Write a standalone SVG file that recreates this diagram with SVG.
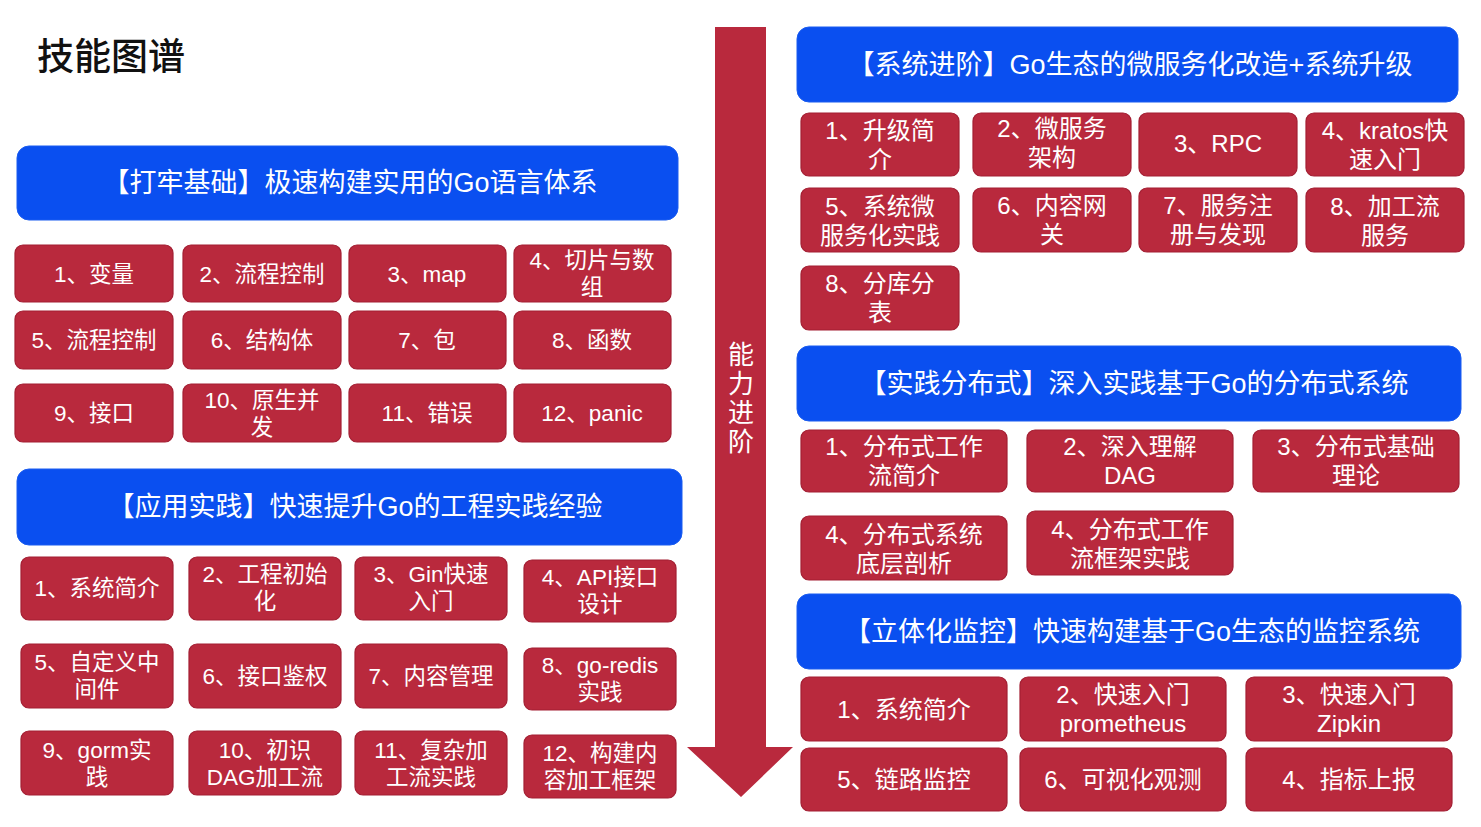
<svg xmlns="http://www.w3.org/2000/svg" width="1481" height="827" viewBox="0 0 1481 827">
<defs>
<style>
.hdr{fill:#0a4ff0;stroke:#1a5cf0;stroke-width:1}
.box{fill:#b9293d;stroke:#a31f33;stroke-width:1.2}
.ht{font-family:"Liberation Sans","Noto Sans CJK SC",sans-serif;font-size:27px;fill:#ffffff;text-anchor:middle}
.bt{font-family:"Liberation Sans","Noto Sans CJK SC",sans-serif;font-size:22.5px;fill:#ffffff;text-anchor:middle}
.bt2{font-family:"Liberation Sans","Noto Sans CJK SC",sans-serif;font-size:24px;fill:#ffffff;text-anchor:middle}
.title{font-family:"Noto Sans CJK SC",sans-serif;font-size:37px;font-weight:500;fill:#111111}
.arrt{font-family:"Noto Sans CJK SC",sans-serif;font-size:26px;fill:#ffffff;writing-mode:vertical-rl;letter-spacing:3px}
</style>
</defs>
<rect width="1481" height="827" fill="#ffffff"/>
<text id="title" class="title" x="37" y="70">技能图谱</text>

<g id="connectors">
<polygon id="progress-arrow" points="715,27 766,27 766,747 793,747 741,797 687,747 715,747" fill="#b9293d"/>
<text class="arrt" x="741" y="341">能力进阶</text>
</g>

<!-- Group 1 -->
<g id="h1"><rect class="hdr" x="17" y="146" width="661" height="74" rx="12"/><text class="ht" x="350" y="192">【打牢基础】极速构建实用的Go语言体系</text></g>
<g id="b1-1"><rect class="box" x="15" y="245" width="158" height="57" rx="8"/><text class="bt" x="94" y="282">1、变量</text></g>
<g id="b1-2"><rect class="box" x="183" y="245" width="158" height="57" rx="8"/><text class="bt" x="262" y="282">2、流程控制</text></g>
<g id="b1-3"><rect class="box" x="349" y="245" width="157" height="57" rx="8"/><text class="bt" x="427" y="282">3、map</text></g>
<g id="b1-4"><rect class="box" x="514" y="245" width="157" height="57" rx="8"/><text class="bt" x="592" y="268">4、切片与数</text><text class="bt" x="592" y="295">组</text></g>
<g id="b1-5"><rect class="box" x="15" y="311" width="158" height="58" rx="8"/><text class="bt" x="94" y="348">5、流程控制</text></g>
<g id="b1-6"><rect class="box" x="183" y="311" width="158" height="58" rx="8"/><text class="bt" x="262" y="348">6、结构体</text></g>
<g id="b1-7"><rect class="box" x="349" y="311" width="157" height="58" rx="8"/><text class="bt" x="427" y="348">7、包</text></g>
<g id="b1-8"><rect class="box" x="514" y="311" width="157" height="58" rx="8"/><text class="bt" x="592" y="348">8、函数</text></g>
<g id="b1-9"><rect class="box" x="15" y="384" width="158" height="58" rx="8"/><text class="bt" x="94" y="421">9、接口</text></g>
<g id="b1-10"><rect class="box" x="183" y="384" width="158" height="58" rx="8"/><text class="bt" x="262" y="408">10、原生并</text><text class="bt" x="262" y="435">发</text></g>
<g id="b1-11"><rect class="box" x="349" y="384" width="157" height="58" rx="8"/><text class="bt" x="427" y="421">11、错误</text></g>
<g id="b1-12"><rect class="box" x="514" y="384" width="157" height="58" rx="8"/><text class="bt" x="592" y="421">12、panic</text></g>

<!-- Group 2 -->
<g id="h2"><rect class="hdr" x="17" y="469" width="665" height="76" rx="12"/><text class="ht" x="355" y="516">【应用实践】快速提升Go的工程实践经验</text></g>
<g id="b2-1"><rect class="box" x="21" y="557" width="152" height="63" rx="8"/><text class="bt" x="97" y="596">1、系统简介</text></g>
<g id="b2-2"><rect class="box" x="189" y="557" width="152" height="63" rx="8"/><text class="bt" x="265" y="582">2、工程初始</text><text class="bt" x="265" y="609">化</text></g>
<g id="b2-3"><rect class="box" x="355" y="557" width="152" height="63" rx="8"/><text class="bt" x="431" y="582">3、Gin快速</text><text class="bt" x="431" y="609">入门</text></g>
<g id="b2-4"><rect class="box" x="524" y="560" width="152" height="62" rx="8"/><text class="bt" x="600" y="585">4、API接口</text><text class="bt" x="600" y="612">设计</text></g>
<g id="b2-5"><rect class="box" x="21" y="644" width="152" height="64" rx="8"/><text class="bt" x="97" y="670">5、自定义中</text><text class="bt" x="97" y="697">间件</text></g>
<g id="b2-6"><rect class="box" x="189" y="644" width="152" height="64" rx="8"/><text class="bt" x="265" y="684">6、接口鉴权</text></g>
<g id="b2-7"><rect class="box" x="355" y="644" width="152" height="64" rx="8"/><text class="bt" x="431" y="684">7、内容管理</text></g>
<g id="b2-8"><rect class="box" x="524" y="648" width="152" height="62" rx="8"/><text class="bt" x="600" y="673">8、go-redis</text><text class="bt" x="600" y="700">实践</text></g>
<g id="b2-9"><rect class="box" x="21" y="731" width="152" height="64" rx="8"/><text class="bt" x="97" y="758">9、gorm实</text><text class="bt" x="97" y="785">践</text></g>
<g id="b2-10"><rect class="box" x="189" y="731" width="152" height="64" rx="8"/><text class="bt" x="265" y="758">10、初识</text><text class="bt" x="265" y="785">DAG加工流</text></g>
<g id="b2-11"><rect class="box" x="355" y="731" width="152" height="64" rx="8"/><text class="bt" x="431" y="758">11、复杂加</text><text class="bt" x="431" y="785">工流实践</text></g>
<g id="b2-12"><rect class="box" x="524" y="735" width="152" height="63" rx="8"/><text class="bt" x="600" y="761">12、构建内</text><text class="bt" x="600" y="788">容加工框架</text></g>

<!-- Group 3 -->
<g id="h3"><rect class="hdr" x="797" y="27" width="661" height="75" rx="12"/><text class="ht" x="1130" y="74">【系统进阶】Go生态的微服务化改造+系统升级</text></g>
<g id="b3-1"><rect class="box" x="801" y="113" width="158" height="63" rx="8"/><text class="bt2" x="880" y="139">1、升级简</text><text class="bt2" x="880" y="168">介</text></g>
<g id="b3-2"><rect class="box" x="973" y="113" width="158" height="63" rx="8"/><text class="bt2" x="1052" y="137">2、微服务</text><text class="bt2" x="1052" y="166">架构</text></g>
<g id="b3-3"><rect class="box" x="1139" y="113" width="158" height="63" rx="8"/><text class="bt2" x="1218" y="152">3、RPC</text></g>
<g id="b3-4"><rect class="box" x="1306" y="113" width="158" height="63" rx="8"/><text class="bt2" x="1385" y="139">4、kratos快</text><text class="bt2" x="1385" y="168">速入门</text></g>
<g id="b3-5"><rect class="box" x="801" y="188" width="158" height="64" rx="8"/><text class="bt2" x="880" y="215">5、系统微</text><text class="bt2" x="880" y="244">服务化实践</text></g>
<g id="b3-6"><rect class="box" x="973" y="188" width="158" height="64" rx="8"/><text class="bt2" x="1052" y="214">6、内容网</text><text class="bt2" x="1052" y="243">关</text></g>
<g id="b3-7"><rect class="box" x="1139" y="188" width="158" height="64" rx="8"/><text class="bt2" x="1218" y="214">7、服务注</text><text class="bt2" x="1218" y="243">册与发现</text></g>
<g id="b3-8"><rect class="box" x="1306" y="188" width="158" height="64" rx="8"/><text class="bt2" x="1385" y="215">8、加工流</text><text class="bt2" x="1385" y="244">服务</text></g>
<g id="b3-9"><rect class="box" x="801" y="266" width="158" height="64" rx="8"/><text class="bt2" x="880" y="292">8、分库分</text><text class="bt2" x="880" y="321">表</text></g>

<!-- Group 4 -->
<g id="h4"><rect class="hdr" x="797" y="346" width="664" height="75" rx="12"/><text class="ht" x="1134" y="393">【实践分布式】深入实践基于Go的分布式系统</text></g>
<g id="b4-1"><rect class="box" x="801" y="430" width="206" height="62" rx="8"/><text class="bt2" x="904" y="455">1、分布式工作</text><text class="bt2" x="904" y="484">流简介</text></g>
<g id="b4-2"><rect class="box" x="1027" y="430" width="206" height="62" rx="8"/><text class="bt2" x="1130" y="455">2、深入理解</text><text class="bt2" x="1130" y="484">DAG</text></g>
<g id="b4-3"><rect class="box" x="1253" y="430" width="206" height="62" rx="8"/><text class="bt2" x="1356" y="455">3、分布式基础</text><text class="bt2" x="1356" y="484">理论</text></g>
<g id="b4-4"><rect class="box" x="801" y="516" width="206" height="64" rx="8"/><text class="bt2" x="904" y="543">4、分布式系统</text><text class="bt2" x="904" y="572">底层剖析</text></g>
<g id="b4-5"><rect class="box" x="1027" y="511" width="206" height="64" rx="8"/><text class="bt2" x="1130" y="538">4、分布式工作</text><text class="bt2" x="1130" y="567">流框架实践</text></g>

<!-- Group 5 -->
<g id="h5"><rect class="hdr" x="797" y="594" width="664" height="75" rx="12"/><text class="ht" x="1132" y="641">【立体化监控】快速构建基于Go生态的监控系统</text></g>
<g id="b5-1"><rect class="box" x="801" y="677" width="206" height="64" rx="8"/><text class="bt2" x="904" y="718">1、系统简介</text></g>
<g id="b5-2"><rect class="box" x="1020" y="677" width="206" height="64" rx="8"/><text class="bt2" x="1123" y="703">2、快速入门</text><text class="bt2" x="1123" y="732">prometheus</text></g>
<g id="b5-3"><rect class="box" x="1246" y="677" width="206" height="64" rx="8"/><text class="bt2" x="1349" y="703">3、快速入门</text><text class="bt2" x="1349" y="732">Zipkin</text></g>
<g id="b5-4"><rect class="box" x="801" y="748" width="206" height="63" rx="8"/><text class="bt2" x="904" y="788">5、链路监控</text></g>
<g id="b5-5"><rect class="box" x="1020" y="748" width="206" height="63" rx="8"/><text class="bt2" x="1123" y="788">6、可视化观测</text></g>
<g id="b5-6"><rect class="box" x="1246" y="748" width="206" height="63" rx="8"/><text class="bt2" x="1349" y="788">4、指标上报</text></g>
</svg>
